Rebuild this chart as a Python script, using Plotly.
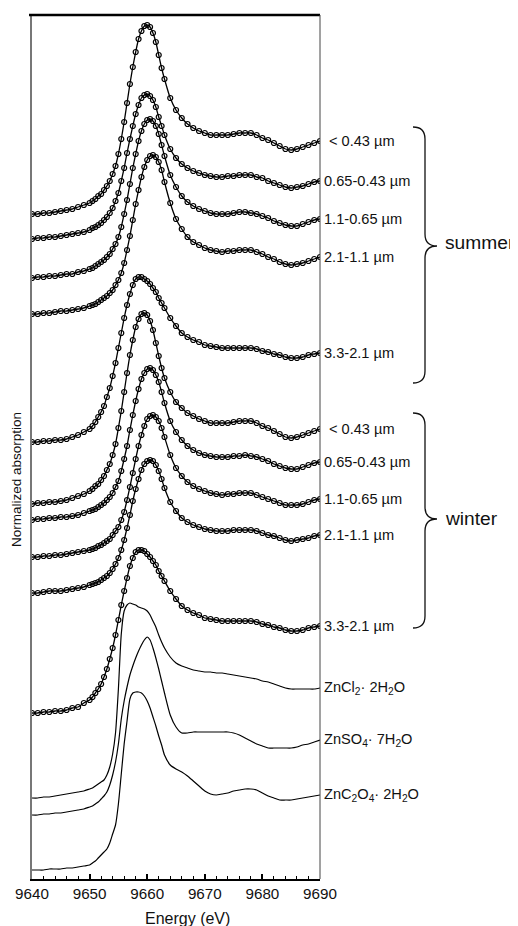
import plotly.graph_objects as go

# ---------------- data (energy in eV, stacked absorption in arbitrary units) ----------------
energy = [9640, 9641, 9642, 9643, 9644, 9645, 9646, 9647, 9648, 9649, 9650,
          9650.5, 9651, 9651.5, 9652, 9652.5, 9653, 9653.5, 9654, 9654.5, 9655, 9655.5,
          9656, 9656.5, 9657, 9657.5, 9658, 9658.5, 9659, 9659.5, 9660, 9660.5, 9661,
          9661.5, 9662, 9662.5, 9663,
          9664, 9665, 9666, 9667, 9668, 9669, 9670, 9671, 9672, 9673, 9674, 9675, 9676,
          9677, 9678, 9679, 9680, 9681, 9682, 9683, 9684, 9685, 9686, 9687, 9688, 9689, 9690]

summer_lt043 = [665, 665, 666, 666, 667, 668, 669, 670, 672, 674, 676,
                678, 680, 683, 685, 689, 693, 698, 705, 713, 725, 740, 757, 776, 795, 812, 827, 840, 848, 853, 854, 852, 846, 837, 824, 811, 800,
                781, 769, 761, 755, 751, 748, 746, 744, 744, 744, 744, 745, 746, 746, 746, 744, 741, 739, 736, 733, 730, 729, 730, 732, 734, 736, 738]
summer_065_043 = [640, 641, 641, 642, 642, 643, 644, 645, 646, 647, 649,
                  651, 652, 654, 656, 659, 662, 666, 671, 678, 686, 698, 711, 726, 740, 753, 765, 774, 781, 784, 785, 783, 779, 772, 762, 753, 744,
                  730, 721, 715, 711, 708, 706, 704, 703, 702, 702, 703, 703, 704, 704, 704, 702, 701, 698, 696, 694, 692, 691, 692, 693, 695, 697, 698]
summer_11_065 = [601, 602, 602, 603, 603, 604, 605, 605, 607, 608, 610,
                 611, 613, 615, 617, 619, 622, 625, 630, 635, 642, 652, 665, 679, 695, 711, 725, 738, 748, 755, 759, 760, 758, 753, 745, 734, 723,
                 704, 692, 683, 677, 673, 670, 668, 666, 665, 665, 665, 666, 667, 667, 666, 665, 663, 661, 658, 656, 654, 653, 653, 655, 657, 659, 660]
summer_21_11 = [565, 565, 566, 566, 567, 568, 568, 569, 570, 571, 573,
                574, 575, 577, 579, 581, 583, 586, 589, 594, 599, 606, 616, 629, 643, 659, 675, 689, 702, 712, 719, 723, 724, 722, 717, 709, 697,
                676, 660, 650, 642, 637, 634, 631, 629, 628, 627, 628, 628, 629, 629, 629, 627, 625, 622, 620, 617, 615, 614, 615, 616, 618, 620, 622]
summer_33_21 = [437, 437, 438, 438, 439, 439, 440, 442, 444, 447, 450,
                453, 457, 462, 467, 473, 482, 491, 503, 516, 531, 546, 561, 574, 585, 594, 600, 602, 602, 600, 598, 595, 591, 587, 581, 576, 571,
                561, 553, 546, 542, 539, 537, 534, 533, 532, 531, 531, 531, 531, 531, 531, 530, 528, 527, 525, 524, 522, 521, 521, 522, 524, 525, 526]
winter_lt043 = [375, 376, 376, 377, 377, 378, 379, 381, 383, 385, 388,
                390, 393, 395, 399, 403, 409, 415, 424, 435, 451, 468, 487, 506, 524, 539, 552, 560, 565, 566, 564, 558, 549, 536, 523, 511, 501,
                487, 477, 471, 466, 463, 460, 458, 456, 456, 456, 456, 457, 458, 458, 458, 456, 453, 451, 448, 445, 442, 441, 442, 444, 446, 448, 450]
winter_065_043 = [359, 360, 360, 361, 361, 362, 362, 363, 364, 366, 368,
                  369, 370, 372, 374, 376, 379, 382, 386, 392, 398, 408, 420, 433, 449, 464, 478, 490, 500, 506, 510, 511, 509, 504, 497, 487, 476,
                  458, 447, 439, 433, 429, 426, 424, 423, 422, 422, 422, 423, 423, 424, 423, 422, 420, 418, 415, 413, 411, 410, 410, 412, 414, 416, 417]
winter_11_065 = [322, 322, 323, 323, 324, 324, 325, 326, 327, 328, 329,
                 330, 331, 333, 334, 336, 338, 340, 344, 348, 352, 359, 367, 379, 392, 406, 420, 433, 444, 453, 460, 463, 464, 462, 458, 451, 442,
                 424, 411, 403, 397, 393, 390, 388, 386, 385, 384, 385, 385, 386, 386, 386, 384, 382, 380, 378, 376, 374, 374, 374, 375, 377, 379, 380]
winter_21_11 = [286, 286, 287, 288, 288, 288, 289, 290, 291, 292, 294,
                295, 296, 297, 299, 301, 303, 306, 310, 315, 321, 329, 339, 351, 364, 378, 390, 400, 409, 415, 418, 419, 418, 414, 408, 400, 391,
                377, 368, 361, 357, 354, 352, 350, 349, 348, 348, 348, 349, 349, 349, 349, 348, 346, 344, 343, 341, 339, 338, 339, 340, 341, 343, 344]
winter_33_21 = [166, 166, 167, 167, 168, 168, 169, 171, 172, 176, 179,
                182, 186, 190, 195, 202, 210, 220, 231, 244, 259, 274, 288, 301, 313, 321, 327, 329, 329, 328, 325, 322, 318, 314, 308, 303, 298,
                288, 280, 273, 269, 266, 264, 261, 260, 259, 258, 258, 258, 258, 258, 258, 257, 255, 254, 252, 251, 249, 248, 248, 249, 251, 252, 253]
ref_zncl2 = [81, 81, 82, 82, 83, 84, 85, 86, 87, 88, 90,
             91, 93, 95, 97, 99, 104, 112, 125, 146, 190, 245, 268, 274, 276, 275, 274, 272, 271, 270, 268, 264, 258, 252, 244, 237, 231,
             222, 216, 213, 211, 209, 208, 207, 207, 206, 206, 205, 204, 203, 202, 201, 200, 198, 197, 195, 193, 191, 190, 190, 190, 190, 190, 191]
ref_znso4 = [64, 64, 65, 65, 66, 66, 67, 68, 69, 70, 72,
             73, 75, 77, 80, 83, 87, 94, 104, 117, 135, 160, 178, 192, 204, 213, 221, 228, 234, 239, 242, 239, 231, 221, 210, 198, 186,
             164, 152, 146, 146, 147, 147, 147, 147, 147, 147, 147, 146, 144, 141, 138, 135, 133, 131, 131, 131, 131, 131, 132, 134, 135, 137, 139]
ref_znc2o4 = [9, 9, 9, 10, 10, 10, 11, 11, 12, 13, 14,
              16, 18, 21, 24, 27, 30, 36, 45, 54, 75, 105, 135, 158, 180, 186, 187, 187, 186, 183, 178, 171, 162, 153, 143, 134, 124,
              114, 110, 107, 103, 98, 93, 88, 85, 84, 85, 86, 88, 89, 90, 90, 89, 86, 83, 81, 79, 79, 79, 80, 81, 82, 83, 84]

sample_labels = ["< 0.43 \u00b5m", "0.65-0.43 \u00b5m", "1.1-0.65 \u00b5m", "2.1-1.1 \u00b5m", "3.3-2.1 \u00b5m"]
summer_series = [summer_lt043, summer_065_043, summer_11_065, summer_21_11, summer_33_21]
winter_series = [winter_lt043, winter_065_043, winter_11_065, winter_21_11, winter_33_21]
ref_labels = ["ZnCl<sub>2</sub>\u00b7 2H<sub>2</sub>O",
              "ZnSO<sub>4</sub>\u00b7 7H<sub>2</sub>O",
              "ZnC<sub>2</sub>O<sub>4</sub>\u00b7 2H<sub>2</sub>O"]
ref_series = [ref_zncl2, ref_znso4, ref_znc2o4]
x_ticks = [9640, 9650, 9660, 9670, 9680, 9690]

# ---------------- layout geometry (page pixels; the page body has an 8px margin) ----------------
OFF = 8
W, H = 518 - OFF, 926 - OFF
L, R, T, B = 32, 320, 15, 879          # plot area in page pixels
FONT = "Liberation Sans, Arial, sans-serif"


def px(x):
    return (x - L) / (R - L)


def py(y):
    return (B - y) / (B - T)


fig = go.Figure()

for vals in summer_series + winter_series:
    fig.add_trace(go.Scatter(
        x=energy, y=vals, mode="lines+markers",
        line=dict(color="black", width=1.3, shape="spline", smoothing=0.6),
        marker=dict(symbol="circle-open", size=5, color="black", line=dict(width=1.2, color="black")),
        showlegend=False, hoverinfo="skip"))

for vals in ref_series:
    fig.add_trace(go.Scatter(
        x=energy, y=vals, mode="lines",
        line=dict(color="black", width=1.2, shape="spline", smoothing=0.6),
        showlegend=False, hoverinfo="skip"))

LAB = 14.6
annotations = []
for lab, vals in zip(sample_labels, summer_series):
    annotations.append(dict(x=px(322 + (5 if lab.startswith("<") else 0)), xref="paper", y=vals[-1], yref="y",
                            text=lab, showarrow=False, xanchor="left", yanchor="middle",
                            font=dict(family=FONT, size=LAB, color="#111")))
for lab, vals in zip(sample_labels, winter_series):
    annotations.append(dict(x=px(322 + (5 if lab.startswith("<") else 0)), xref="paper", y=vals[-1], yref="y",
                            text=lab, showarrow=False, xanchor="left", yanchor="middle",
                            font=dict(family=FONT, size=LAB, color="#111")))
for lab, vals in zip(ref_labels, ref_series):
    annotations.append(dict(x=px(322), xref="paper", y=vals[-1], yref="y",
                            text=lab, showarrow=False, xanchor="left", yanchor="middle",
                            font=dict(family=FONT, size=LAB, color="#111")))

annotations.append(dict(x=px(443), xref="paper", y=py(243), yref="paper", text="summer",
                        showarrow=False, xanchor="left", yanchor="middle",
                        font=dict(family=FONT, size=19.2, color="#111")))
annotations.append(dict(x=px(443), xref="paper", y=py(519), yref="paper", text="winter",
                        showarrow=False, xanchor="left", yanchor="middle",
                        font=dict(family=FONT, size=19.2, color="#111")))
annotations.append(dict(x=px(16), xref="paper", y=py(480), yref="paper", text="Normalized absorption",
                        showarrow=False, textangle=-90, xanchor="center", yanchor="middle",
                        font=dict(family=FONT, size=13.5, color="#111")))
annotations.append(dict(x=px(187), xref="paper", y=py(918), yref="paper", text="Energy (eV)",
                        showarrow=False, xanchor="center", yanchor="middle",
                        font=dict(family=FONT, size=16, color="#111")))


def brace(top, tip, bot, xv=425, xe=413, xt=437, r=12):
    pts = [
        f"M {px(xe)},{py(top)}",
        f"Q {px(xv)},{py(top)} {px(xv)},{py(top + r)}",
        f"L {px(xv)},{py(tip - r)}",
        f"Q {px(xv)},{py(tip)} {px(xt)},{py(tip)}",
        f"Q {px(xv)},{py(tip)} {px(xv)},{py(tip + r)}",
        f"L {px(xv)},{py(bot - r)}",
        f"Q {px(xv)},{py(bot)} {px(xe)},{py(bot)}",
    ]
    return dict(type="path", path=" ".join(pts), xref="paper", yref="paper",
                line=dict(color="#111", width=1.3))


shapes = [
    dict(type="line", xref="paper", yref="paper", x0=px(29), x1=1, y0=1, y1=1,
         line=dict(color="black", width=2.5)),
    dict(type="line", xref="paper", yref="paper", x0=1, x1=1, y0=0, y1=1,
         line=dict(color="#444", width=1)),
    brace(127, 246, 383),
    brace(413, 519, 628),
]

fig.update_layout(
    width=W, height=H,
    margin=dict(l=L - OFF, r=W - (R - OFF), t=T - OFF, b=H - (B - OFF)),
    paper_bgcolor="white", plot_bgcolor="white",
    showlegend=False,
    annotations=annotations,
    shapes=shapes,
    xaxis=dict(range=[9640, 9690], tickvals=x_ticks, ticktext=[str(v) for v in x_ticks],
               showgrid=False, zeroline=False, showline=True, linecolor="black", linewidth=1.5,
               ticks="inside", ticklen=5, tickwidth=1.5, tickcolor="black",
               minor=dict(dtick=2, ticks="inside", ticklen=3, tickwidth=1, tickcolor="black"),
               tickfont=dict(family=FONT, size=15.2, color="#111")),
    yaxis=dict(range=[0, 864], showgrid=False, zeroline=False, showticklabels=False,
               showline=True, linecolor="#777", linewidth=1.5, ticks=""),
)

fig.write_html("out.html")
